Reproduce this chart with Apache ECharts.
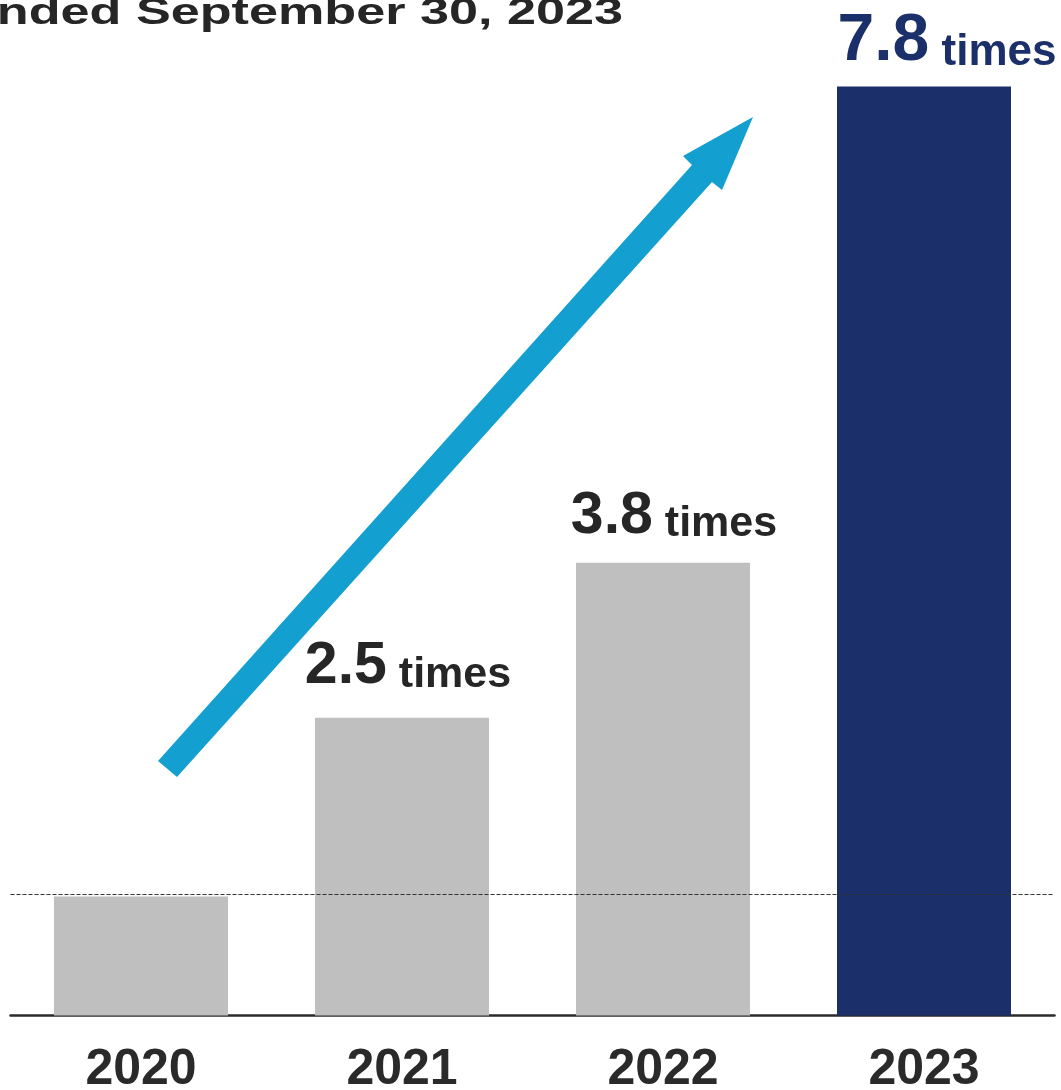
<!DOCTYPE html>
<html><head><meta charset="utf-8">
<script src="https://cdn.jsdelivr.net/npm/echarts@6/dist/echarts.min.js"></script>
<style>html,body{margin:0;padding:0;background:#fff}#c{width:1061px;height:1090px}</style>
</head><body><div id="c"></div>
<script>
// ---- data ----
const categories = ['2020', '2021', '2022', '2023'];
const values = [1.0, 2.5, 3.8, 7.8];
const showValueLabel = [false, true, true, true];
const unitText = 'times';
const referenceLevel = 1.02;
const highlightIndex = 3;
const titleText = 'Ended September 30, 2023';

// ---- styles ----
const FONT = '"Liberation Sans", Arial, Helvetica, sans-serif';
const GRAY = '#bfbfbf';
const NAVY = '#1b2f6b';
const INK = '#262626';
const ARROW = '#139fcf';
const labelShiftX = [0, 6, 11, 23];
const labelDistance = [0, 21, 17, 12];

function richFor(hi) {
  const nSize = hi ? 66 : 59, tSize = hi ? 44 : 43;
  const color = hi ? NAVY : INK;
  return {
    n: { fontFamily: FONT, fontWeight: 'bold', fontSize: nSize, lineHeight: nSize, color: color, verticalAlign: 'bottom' },
    t: { fontFamily: FONT, fontWeight: 'bold', fontSize: tSize, lineHeight: Math.round(nSize - 0.62 * (nSize - tSize)), color: color, verticalAlign: 'bottom' }
  };
}

const seriesData = values.map((v, i) => {
  const hi = i === highlightIndex;
  return {
    value: v,
    itemStyle: { color: hi ? NAVY : GRAY },
    label: {
      show: showValueLabel[i],
      position: 'top',
      distance: labelDistance[i],
      offset: [labelShiftX[i], 0],
      formatter: p => '{n|' + p.value.toFixed(1) + '}{t| ' + unitText + '}',
      rich: richFor(hi)
    }
  };
});

const chart = echarts.init(document.getElementById('c'), null, { renderer: 'canvas' });
chart.setOption({
  animation: false,
  backgroundColor: '#ffffff',
  grid: { left: 10.5, right: 6.5, top: 3, bottom: 74.5, containLabel: false, outerBoundsMode: 'none' },
  xAxis: {
    type: 'category',
    data: categories,
    axisTick: { show: false },
    axisLine: { show: true, lineStyle: { color: '#2b2b2b', width: 2.5 } },
    axisLabel: { fontFamily: FONT, fontWeight: 'bold', fontSize: 50, lineHeight: 50, color: '#2a2a2a', margin: 30 }
  },
  yAxis: {
    type: 'value', min: 0, max: 8.5,
    show: false, splitLine: { show: false }
  },
  series: [{
    type: 'bar',
    data: seriesData,
    barWidth: 174,
    markLine: {
      silent: true,
      symbol: ['none', 'none'],
      label: { show: false },
      lineStyle: { color: '#333333', width: 1, type: [4, 2] },
      data: [{ yAxis: referenceLevel }]
    }
  }],
  graphic: [
    {
      type: 'text', x: -38, y: 14, scaleX: 1.41,
      style: { text: titleText, fontFamily: FONT, fontWeight: 'bold', fontSize: 37, fill: INK, align: 'left', verticalAlign: 'middle' }
    },
    {
      type: 'polygon', z: 10,
      shape: { points: [[158, 761], [692, 165], [683, 156], [753, 117], [722, 190], [712, 182], [177, 777]] },
      style: { fill: ARROW }
    }
  ]
});
</script>
</body></html>
